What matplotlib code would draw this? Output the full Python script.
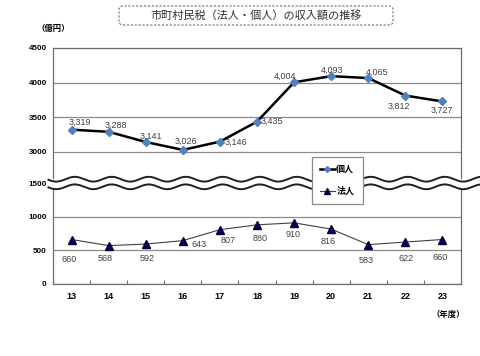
import numpy as np
import matplotlib
matplotlib.use('Agg')
import matplotlib.pyplot as plt
from matplotlib.lines import Line2D
from matplotlib.patches import FancyBboxPatch, Polygon
from matplotlib.transforms import IdentityTransform

years = ['13', '14', '15', '16', '17', '18', '19', '20', '21', '22', '23']
kojin = [3319, 3288, 3141, 3026, 3146, 3435, 4004, 4093, 4065, 3812, 3727]
hojin = [660, 568, 592, 643, 807, 880, 910, 816, 583, 622, 660]

# label offsets in pixels (dx, dy)
kojin_off = [(8, 7), (7, 6), (5, 6), (3, 9), (16, -1), (15, 0),
             (-9, 6), (1, 6), (9, 6), (-6, -11), (-1, -9)]
hojin_off = [(-2, -20), (-3, -13), (1, -14), (16, -4), (8, -11), (3, -14),
             (-1, -12), (-3, -12), (-2, -16), (1, -16), (-2, -18)]

W, H = 481, 356
JP = ['Noto Sans CJK JP', 'DejaVu Sans']
NUM = 'Liberation Sans'
grid_c = '#8c8c8c'

fig = plt.figure(figsize=(W / 100, H / 100), dpi=100)

def fx(px):
    return px / W

def fy(py):
    return 1 - py / H

left, right = 53, 461
ax_top = fig.add_axes([fx(left), fy(178), fx(right - left), fy(48) - fy(178)])
ax_bot = fig.add_axes([fx(left), fy(283.5), fx(right - left), fy(183.5) - fy(283.5)])

x = np.arange(len(years))

for ax in (ax_top, ax_bot):
    ax.set_xlim(-0.5, len(years) - 0.5)
    for s in ax.spines.values():
        s.set_color('#6e6e6e')
        s.set_linewidth(0.9)
    ax.tick_params(axis='y', length=0, pad=4.5, labelsize=5.8)
    ax.set_axisbelow(True)

ax_top.set_ylim(2620, 4500)
ax_top.set_yticks([3000, 3500, 4000, 4500])
ax_top.spines['bottom'].set_visible(False)
ax_top.set_xticks([])
ax_top.yaxis.grid(True, color=grid_c, lw=0.9)

ax_bot.set_ylim(0, 1500)
ax_bot.set_yticks([0, 500, 1000, 1500])
ax_bot.spines['top'].set_visible(False)
ax_bot.yaxis.grid(True, color=grid_c, lw=0.9)
ax_bot.set_xticks(x)
ax_bot.set_xticklabels(years)
ax_bot.set_xticks(np.arange(len(years) + 1) - 0.5, minor=True)
ax_bot.tick_params(axis='x', which='major', length=0, pad=6, labelsize=6.5)
ax_bot.tick_params(axis='x', which='minor', direction='in', length=3,
                   color='#6e6e6e', width=0.8)

for ax in (ax_top, ax_bot):
    for lab in ax.get_yticklabels() + ax.get_xticklabels():
        lab.set_fontfamily(NUM)
        lab.set_fontweight('bold')

# series
ax_top.plot(x, kojin, color='black', lw=1.8, marker='D', ms=3.6,
            mfc='#4f81bd', mec='#4f81bd', zorder=3)
ax_bot.plot(x, hojin, color='#404040', lw=0.8, marker='^', ms=5.2,
            mfc='#000066', mec='#000033', zorder=3)

for xi, v, (dx, dy) in zip(x, kojin, kojin_off):
    ax_top.annotate(f'{v:,}', (xi, v), xytext=(dx, dy), textcoords='offset pixels',
                    ha='center', va='center', fontsize=6.5, color='#404040',
                    fontfamily=NUM)
for xi, v, (dx, dy) in zip(x, hojin, hojin_off):
    ax_bot.annotate(f'{v:,}', (xi, v), xytext=(dx, dy), textcoords='offset pixels',
                    ha='center', va='center', fontsize=6.5, color='#404040',
                    fontfamily=NUM)

# wavy break lines
wx = np.linspace(48.5, W, 400)
period, amp = 37.0, 2.4
w1 = 179.2 + amp * np.sin(2 * np.pi * (wx - 47) / period)
w2 = 186.8 + amp * np.sin(2 * np.pi * (wx - 47) / period)
band = np.vstack([np.column_stack([wx, H - w1]),
                  np.column_stack([wx[::-1], H - w2[::-1]])])
fig.add_artist(Polygon(band, closed=True, facecolor='white', edgecolor='none',
                       transform=IdentityTransform(), zorder=3))
for w in (w1, w2):
    fig.add_artist(Line2D(wx, H - w, color='#202020', lw=1.4,
                          transform=IdentityTransform(), zorder=4))

# legend
handles = [Line2D([], [], color='black', lw=1.8, marker='D', ms=3,
                  mfc='#4f81bd', mec='#4f81bd'),
           Line2D([], [], color='#404040', lw=0.8, marker='^', ms=4.5,
                  mfc='#000066', mec='#000033')]
leg = fig.legend(handles, ['個人', '法人'], loc='upper left',
                 bbox_to_anchor=(fx(312), fy(157)), frameon=True, fancybox=False,
                 framealpha=1,
                 prop={'family': JP, 'size': 6.5, 'weight': 'bold'},
                 handlelength=1.6, handletextpad=0.2, borderpad=0.9,
                 labelspacing=1.4, borderaxespad=0)
leg.get_frame().set_edgecolor('#8c8c8c')
leg.get_frame().set_linewidth(0.9)
leg.set_zorder(6)

# title box
fig.add_artist(FancyBboxPatch((119, H - 25), 274, 19,
                              boxstyle='round,pad=0,rounding_size=4',
                              facecolor='white', edgecolor='#707070', lw=0.8,
                              ls=(0, (2, 1.5)), transform=IdentityTransform(),
                              zorder=1))
fig.text(fx(256), fy(15.5), '市町村民税（法人・個人）の収入額の推移', ha='center',
         va='center', fontsize=8, family=JP, color='#303030')
fig.text(fx(37), fy(28), '（億円）', ha='left', va='center', fontsize=6,
         family=JP, weight='bold')
fig.text(fx(465), fy(314), '（年度）', ha='right', va='center', fontsize=6,
         family=JP, weight='bold')

fig.savefig('out.png', dpi=100)
